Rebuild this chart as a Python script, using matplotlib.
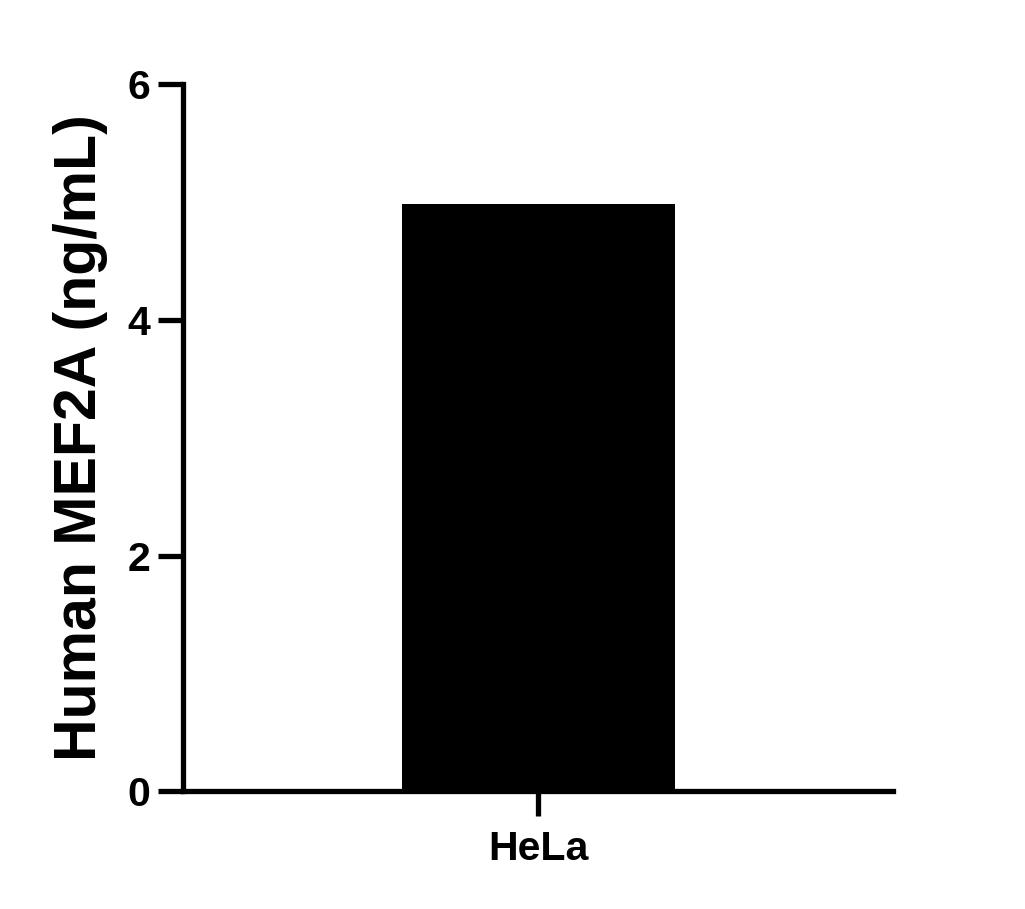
import matplotlib
matplotlib.use('Agg')
import matplotlib.pyplot as plt

categories = ['HeLa']
values = [4.98]
y_ticks = [0, 2, 4, 6]
y_label = 'Human MEF2A (ng/mL)'

def main():
    plt.rcParams['font.family'] = ['Liberation Sans', 'DejaVu Sans']
    plt.rcParams['font.weight'] = 'bold'

    fig = plt.figure(figsize=(10.25, 9.09), dpi=100)
    ax = fig.add_axes([0.179, 0.1293, 0.692, 0.7783])

    ax.bar(range(len(categories)), values, width=0.5, color='black')

    ax.set_xlim(-0.65, 0.65)
    ax.set_ylim(0, 6)
    ax.set_yticks(y_ticks)
    ax.set_xticks(range(len(categories)))
    ax.set_xticklabels(categories)

    for side in ['top', 'right']:
        ax.spines[side].set_visible(False)
    for side in ['left', 'bottom']:
        ax.spines[side].set_linewidth(3.8)

    ax.tick_params(axis='both', length=18, width=3.8, labelsize=29.5, pad=6)
    ax.tick_params(axis='x', pad=10)
    for lbl in ax.get_xticklabels() + ax.get_yticklabels():
        lbl.set_fontweight('bold')

    ax.set_ylabel(y_label, fontsize=42.5, fontweight='bold', labelpad=14)

    fig.savefig('out.png', dpi=100)

if __name__ == "__main__":
    main()
